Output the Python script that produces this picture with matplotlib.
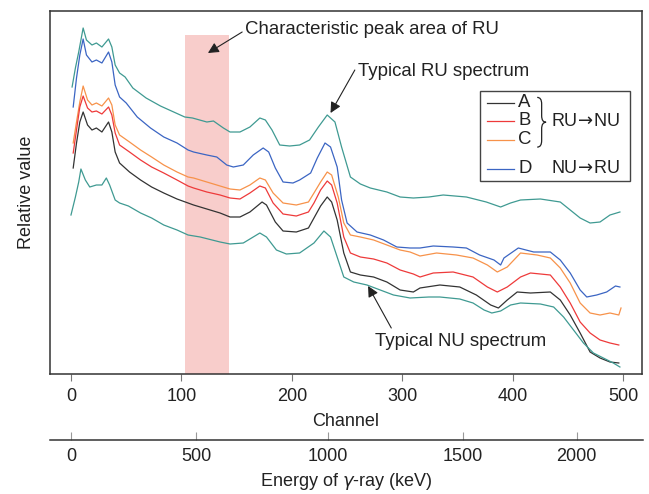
import matplotlib
matplotlib.use('Agg')
import matplotlib.pyplot as plt
from matplotlib.path import Path
from matplotlib.patches import PathPatch, Rectangle

plt.rcParams['font.family'] = ['Liberation Sans', 'DejaVu Sans']

# Spectra: channel positions and relative values (arbitrary units)
ru_ch = [1, 4, 7, 11, 14, 19, 23, 28, 34, 37, 40, 44, 49, 56, 68, 81, 93, 103, 110, 123,
         129, 138, 144, 153, 162, 171, 176, 182, 189, 198, 207, 216, 224, 232, 239, 245,
         253, 262, 271, 286, 298, 310, 324, 337, 358, 376, 389, 398, 407, 425, 443, 452,
         461, 470, 479, 488, 497]
ru_val = [287, 306, 322, 346, 334, 329, 331, 327, 335, 327, 309, 301, 297, 286, 276, 268,
          262, 257, 256, 252, 253, 246, 242, 242, 247, 256, 254, 244, 229, 228, 229, 234,
          247, 259, 252, 227, 197, 190, 186, 182, 177, 176, 177, 179, 177, 172, 167, 171,
          174, 175, 172, 164, 156, 151, 152, 159, 162]

d_ch = [2, 5, 8, 11, 14, 19, 23, 28, 34, 37, 40, 44, 50, 60, 72, 84, 96, 106, 111, 123,
        132, 141, 147, 156, 165, 174, 179, 185, 192, 201, 207, 217, 223, 230, 235, 241,
        245, 250, 259, 271, 283, 295, 307, 316, 328, 346, 358, 370, 383, 389, 392, 405,
        419, 434, 443, 452, 461, 467, 476, 485, 493, 497]
d_val = [267, 296, 319, 335, 319, 312, 314, 311, 322, 312, 289, 277, 271, 257, 246, 237,
         231, 224, 222, 219, 217, 209, 207, 209, 219, 226, 222, 206, 192, 191, 194, 201,
         216, 231, 227, 207, 174, 151, 142, 139, 134, 127, 126, 126, 128, 127, 126, 119,
         114, 109, 116, 126, 122, 122, 114, 101, 84, 77, 79, 82, 88, 87]

c_ch = [2, 5, 8, 11, 15, 19, 23, 28, 34, 37, 40, 44, 53, 63, 73, 84, 96, 106, 111, 123,
        135, 144, 153, 162, 171, 176, 183, 192, 204, 215, 220, 226, 232, 236, 242, 247,
        253, 262, 274, 286, 298, 307, 316, 331, 349, 364, 377, 386, 395, 407, 422, 434,
        443, 452, 461, 470, 479, 488, 496, 498]
c_val = [231, 252, 272, 288, 274, 269, 271, 268, 276, 269, 249, 239, 232, 224, 217, 209,
         202, 197, 196, 192, 188, 185, 184, 189, 196, 194, 181, 171, 169, 172, 181, 192,
         202, 199, 177, 151, 139, 137, 134, 129, 124, 122, 118, 121, 119, 116, 109, 102,
         107, 121, 119, 116, 106, 91, 71, 61, 59, 61, 59, 66]

b_ch = [2, 5, 8, 11, 15, 19, 23, 28, 34, 37, 40, 44, 53, 63, 73, 84, 96, 106, 111, 123,
        135, 144, 153, 162, 171, 176, 183, 192, 204, 215, 220, 226, 232, 236, 241, 247,
        253, 262, 274, 286, 298, 310, 316, 328, 346, 364, 377, 386, 395, 407, 416, 434,
        443, 452, 461, 470, 479, 488, 496]
b_val = [221, 244, 267, 278, 266, 262, 263, 260, 267, 259, 241, 229, 222, 214, 207, 201,
         194, 188, 186, 182, 179, 176, 175, 181, 188, 186, 171, 160, 158, 162, 171, 184,
         193, 189, 171, 137, 121, 117, 115, 111, 104, 100, 97, 101, 102, 97, 87, 82,
         87, 97, 101, 99, 87, 71, 52, 41, 34, 31, 29]

a_ch = [2, 5, 8, 11, 15, 19, 23, 28, 34, 37, 40, 44, 53, 63, 73, 84, 96, 106, 111, 123,
        135, 144, 153, 162, 173, 177, 185, 192, 204, 215, 220, 226, 232, 236, 241, 247,
        253, 262, 274, 286, 298, 310, 316, 334, 352, 367, 380, 387, 395, 404, 416, 434,
        443, 452, 461, 470, 479, 488, 496]
a_val = [206, 231, 252, 262, 249, 244, 246, 242, 252, 242, 222, 211, 202, 194, 187, 181,
         175, 171, 169, 165, 161, 157, 157, 162, 172, 169, 152, 143, 142, 146, 156, 168,
         177, 172, 154, 121, 102, 99, 97, 92, 84, 82, 86, 89, 87, 79, 69, 66, 74, 82,
         81, 82, 74, 59, 41, 22, 16, 12, 11]

nu_ch = [0, 4, 7, 9, 13, 17, 23, 28, 32, 35, 40, 44, 52, 63, 73, 84, 96, 106, 117, 135,
         144, 156, 171, 177, 186, 195, 207, 220, 229, 235, 241, 247, 256, 268, 280, 292,
         307, 324, 334, 352, 364, 374, 381, 389, 398, 407, 425, 437, 446, 455, 464, 473,
         482, 491, 497]
nu_val = [159, 177, 192, 205, 194, 187, 189, 189, 196, 189, 174, 171, 168, 161, 156, 149,
          144, 139, 137, 132, 130, 131, 141, 137, 124, 120, 121, 131, 143, 137, 117, 97,
          92, 89, 84, 79, 76, 77, 77, 75, 71, 64, 61, 63, 69, 71, 70, 67, 57, 44, 31, 21,
          16, 11, 7]

channel_ticks = [0, 100, 200, 300, 400, 500]
energy_labels = ['0', '500', '1000', '1500', '2000']
energy_tick_ch = [0, 113, 232, 354, 457]   # channel where each energy tick sits
peak_area = (103, 143)

teal = '#3f9a92'
blue = '#3b65c3'
orange = '#f7924a'
red = '#ee3a3a'
black = '#333333'
dark = '#222222'

fig = plt.figure(figsize=(6.49, 4.94), dpi=100)
ax = fig.add_axes([50/649, 120/494, 592/649, 363/494])

ax.axvspan(peak_area[0], peak_area[1], ymin=0, ymax=0.933, color='#f8cdcb', lw=0, zorder=0)

ax.plot(ru_ch, ru_val, color=teal, lw=0.9)
ax.plot(d_ch, d_val, color=blue, lw=0.9)
ax.plot(c_ch, c_val, color=orange, lw=0.9)
ax.plot(b_ch, b_val, color=red, lw=0.9)
ax.plot(a_ch, a_val, color=black, lw=0.9)
ax.plot(nu_ch, nu_val, color=teal, lw=0.9)

ax.set_xlim(-19, 517)
ax.set_ylim(0, 363)
ax.set_yticks([])
ax.set_xticks(channel_ticks)
ax.tick_params(axis='x', direction='out', length=5, width=0.8, color='#777777',
               labelsize=13, labelcolor=dark, pad=5)
for s in ax.spines.values():
    s.set_color('#333333')
    s.set_linewidth(1.1)
ax.set_xlabel('Channel', fontsize=13, color=dark, labelpad=6)
ax.set_ylabel('Relative value', fontsize=13, color=dark, labelpad=11)

# annotations
arrow = dict(arrowstyle='-|>', color=dark, lw=0.8, mutation_scale=16, shrinkA=0, shrinkB=0)
ax.annotate('', xy=(124, 321), xytext=(155, 342), arrowprops=arrow)
ax.text(158, 344, 'Characteristic peak area of RU', fontsize=13.4, color=dark, va='center')
ax.annotate('', xy=(235, 261), xytext=(257, 304), arrowprops=arrow)
ax.text(260, 302, 'Typical RU spectrum', fontsize=13.4, color=dark, va='center')
ax.annotate('', xy=(269, 88), xytext=(290, 46), arrowprops=arrow)
ax.text(275, 33, 'Typical NU spectrum', fontsize=13.4, color=dark, va='center')

# legend drawn by hand (grouped with a brace)
ax.add_patch(Rectangle((0.726, 0.531), 0.253, 0.249, transform=ax.transAxes,
                       fill=False, ec='#444444', lw=1.0, zorder=5))
rows = [('A', black, 0.747), ('B', red, 0.697), ('C', orange, 0.646), ('D', blue, 0.566)]
for name, col, y in rows:
    ax.plot([0.738, 0.784], [y, y], color=col, lw=0.9, transform=ax.transAxes)
    ax.text(0.791, y, name, fontsize=13.4, color=dark, va='center', transform=ax.transAxes)

x0, xt, yt, yb = 0.823, 0.838, 0.762, 0.625
xm, ym, r = (x0 + xt) / 2, (yt + yb) / 2, 0.018
verts = [(x0, yt), (xm, yt), (xm, yt - r), (xm, ym + r), (xm, ym), (xt, ym),
         (xm, ym), (xm, ym - r), (xm, yb + r), (xm, yb), (x0, yb)]
codes = [Path.MOVETO, Path.CURVE3, Path.CURVE3, Path.LINETO, Path.CURVE3, Path.CURVE3,
         Path.CURVE3, Path.CURVE3, Path.LINETO, Path.CURVE3, Path.CURVE3]
ax.add_patch(PathPatch(Path(verts, codes), fill=False, ec=dark, lw=0.9,
                       transform=ax.transAxes))
ax.text(0.846, 0.696, 'RU$\\!\\rightarrow\\!$NU', fontsize=13, color=dark, va='center',
        transform=ax.transAxes)
ax.text(0.846, 0.566, 'NU$\\!\\rightarrow\\!$RU', fontsize=13, color=dark, va='center',
        transform=ax.transAxes)

# energy axis below
ax2 = fig.add_axes([50/649, 54/494, 593/649, 0.0001])
ax2.set_xlim(-19, 517)
ax2.set_yticks([])
for side in ['top', 'left', 'right']:
    ax2.spines[side].set_visible(False)
ax2.spines['bottom'].set_color('#333333')
ax2.spines['bottom'].set_linewidth(1.1)
ax2.patch.set_visible(False)
ax2.set_xticks(energy_tick_ch)
ax2.set_xticklabels(energy_labels)
ax2.tick_params(axis='x', direction='in', length=6, width=0.8, color='#999999',
                labelsize=13, labelcolor=dark, pad=6)
ax2.set_xlabel('Energy of $\\mathit{\\gamma}$-ray (keV)', fontsize=13, color=dark, labelpad=4)

fig.savefig('out.png', dpi=100)
